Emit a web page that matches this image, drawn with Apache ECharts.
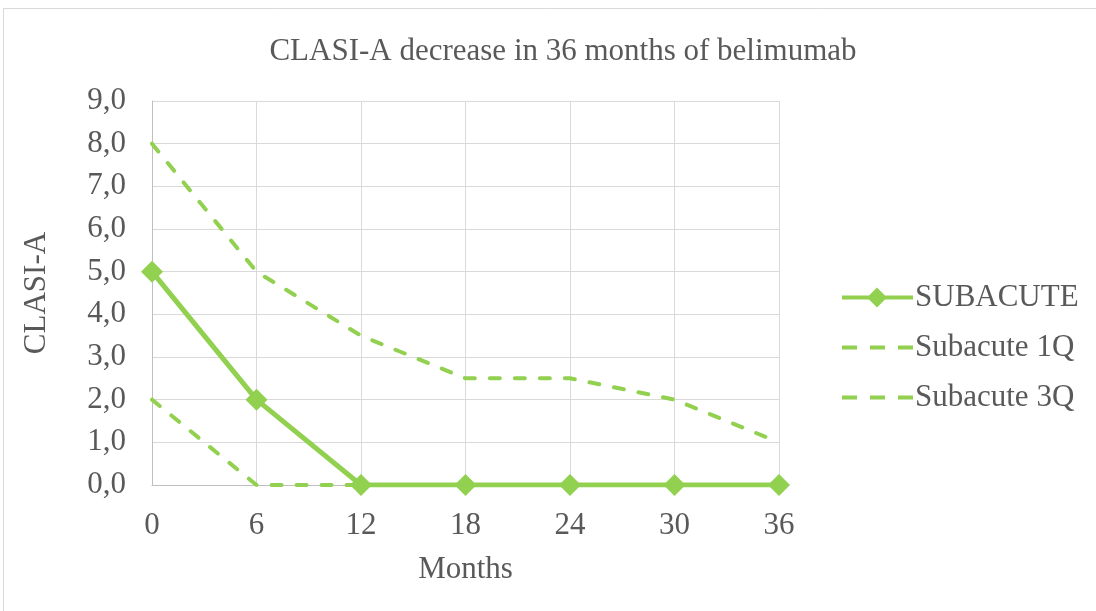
<!DOCTYPE html>
<html><head><meta charset="utf-8">
<script src="https://cdn.jsdelivr.net/npm/echarts@6/dist/echarts.min.js"></script>
<style>html,body{margin:0;padding:0;background:#fff}#c{width:1096px;height:611px}</style>
</head><body><div id="c"></div>
<script>
const months = ['0','6','12','18','24','30','36'];
const subacute = [5, 2, 0, 0, 0, 0, 0];
const subacute1Q = [2, 0, 0, 0, 0, 0, 0];
const subacute3Q = [8, 5, 3.5, 2.5, 2.5, 2, 1];

const GREEN = '#92D050';
const TXT = '#595959';
const FONT = '"Liberation Serif", "Times New Roman", serif';
const FS = 31;
const dashIcon = 'path://M0,8 L15,8 L15,12 L0,12 Z M28,8 L43,8 L43,12 L28,12 Z M56,8 L71,8 L71,12 L56,12 Z';
const chart = echarts.init(document.getElementById('c'));
chart.setOption({
  animation: false,
  textStyle: {fontFamily: FONT},
  graphic: [{type:'rect', shape:{x:3.5, y:8.5, width:1100, height:610}, style:{fill:'none', stroke:'#d9d9d9', lineWidth:1}}],
  title: {text: 'CLASI-A decrease in 36 months of belimumab', left: 558, top: 31, textAlign: 'center',
    textStyle: {fontFamily: FONT, fontSize: FS, fontWeight: 'normal', color: TXT}},
  grid: {left: 152, right: 1096-779, top: 101, bottom: 611-485, containLabel: false},
  legend: {orient: 'vertical', left: 837, top: 277, itemGap: 19, itemWidth: 71, itemHeight: 20,
    textStyle: {fontFamily: FONT, fontSize: FS, color: TXT, padding: [0,0,0,-3]},
    data: [
      {name:'SUBACUTE', icon:'path://M0,8 L27,8 L35,0 L43,8 L71,8 L71,12 L43,12 L35,20 L27,12 L0,12 Z'},
      {name:'Subacute 1Q', icon: dashIcon},
      {name:'Subacute 3Q', icon: dashIcon}
    ]},
  xAxis: {type:'category', data: months, boundaryGap: false, name: 'Months', nameLocation: 'middle', nameGap: 69,
    nameTextStyle: {fontFamily: FONT, fontSize: FS, color: TXT},
    axisLine: {lineStyle: {color: '#bfbfbf', width: 1}}, axisTick: {show: false},
    axisLabel: {fontFamily: FONT, fontSize: FS, color: TXT, margin: 25},
    splitLine: {show: true, lineStyle: {color: '#d9d9d9', width: 1}}},
  yAxis: {type:'value', min: 0, max: 9, interval: 1, name: 'CLASI-A', nameLocation: 'middle', nameGap: 100,
    nameTextStyle: {fontFamily: FONT, fontSize: FS, color: TXT},
    axisLine: {show: true, lineStyle: {color: '#bfbfbf'}}, axisTick: {show: false},
    axisLabel: {fontFamily: FONT, fontSize: FS, color: TXT, margin: 26, formatter: v => v.toFixed(1).replace('.', ',')},
    splitLine: {lineStyle: {color: '#d9d9d9', width: 1}}},
  series: [
    {name:'SUBACUTE', type:'line', data: subacute, symbol:'diamond', symbolSize: 22, z: 5,
      lineStyle:{color: GREEN, width: 5}, itemStyle:{color: GREEN}},
    {name:'Subacute 1Q', type:'line', data: subacute1Q, symbol:'none',
      lineStyle:{color: GREEN, width: 4, type:[10, 15], cap:'round'}, itemStyle:{color: GREEN}},
    {name:'Subacute 3Q', type:'line', data: subacute3Q, symbol:'none',
      lineStyle:{color: GREEN, width: 4, type:[10, 15], cap:'round'}, itemStyle:{color: GREEN}}
  ]
});
</script></body></html>
